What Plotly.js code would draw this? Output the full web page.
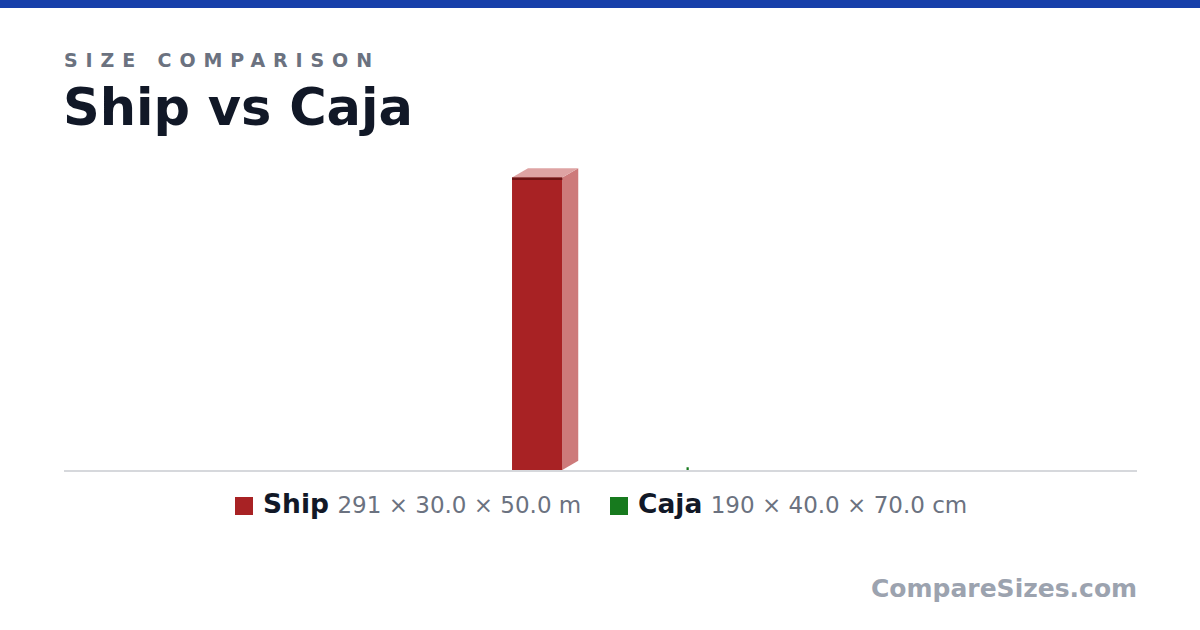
<!DOCTYPE html>
<html><head><meta charset="utf-8">
<script src="https://cdn.plot.ly/plotly-3.0.1.min.js"></script>
<style>html,body{margin:0;padding:0;background:#fff}#chart{width:1200px;height:630px}</style>
</head><body><div id="chart"></div>
<script>
// ---- data ----
const names = ['Ship', 'Caja'];
const dimHeight = [291, 190];
const dimDepth = [30.0, 40.0];
const dimWidth = [50.0, 70.0];
const units = ['m', 'cm'];
const frontColors = ['#a82224', '#177a1e'];
const topColors = ['#dea3a3', '#8fc48f'];
const sideColors = ['#cd7a7a', '#5fa565'];
const edgeColors = ['#6e1414', '#0d4a12'];

// ---- layout helpers ----
const unitToM = {m: 1, cm: 0.01};
const L = 64, R = 63, T = 100, B = 160, W = 1200, H = 630;
const plotW = W - L - R, plotH = H - T - B;
const s = 1.005; // px per metre
const xMax = plotW / s, yMax = plotH / s;
const gap = 125 / s;
const kx = 0.53, ky = 0.31;

const hs = dimHeight.map((v, i) => v * unitToM[units[i]]);
const ds = dimDepth.map((v, i) => v * unitToM[units[i]]);
const ws = dimWidth.map((v, i) => v * unitToM[units[i]]);
const total = ws.reduce((a, b) => a + b, 0) + gap * (ws.length - 1);
const centre = (600 - L) / s;
let cursor = centre - total / 2;

const traces = [];
names.forEach((n, i) => {
  const x0 = cursor, w = ws[i], h = hs[i], d = ds[i];
  const dx = kx * d, dy = ky * d;
  const tiny = w < 5;
  const base = {type: 'scatter', mode: 'lines', fill: 'toself', hoverinfo: 'skip', showlegend: false, line: {width: 0}};
  traces.push(Object.assign({}, base, {
    x: [x0 + w, x0 + w + dx, x0 + w + dx, x0 + w, x0 + w],
    y: [0, dy, h + dy, h, 0], fillcolor: sideColors[i]}));
  traces.push(Object.assign({}, base, {
    x: [x0, x0 + w, x0 + w + dx, x0 + dx, x0],
    y: [h, h, h + dy, h + dy, h], fillcolor: topColors[i]}));
  traces.push(Object.assign({}, base, {
    x: [x0, x0 + w, x0 + w, x0, x0],
    y: [0, 0, h, h, 0], fillcolor: frontColors[i],
    line: tiny ? {width: 1.5, color: frontColors[i]} : {width: 0}}));
  if (!tiny) {
    traces.push({type: 'scatter', mode: 'lines', hoverinfo: 'skip', showlegend: false,
      x: [x0, x0 + w], y: [h - 1.2, h - 1.2], line: {color: edgeColors[i], width: 2.5}});
  }
  cursor += w + gap;
});

const px = x => (x - L) / plotW;
const py = y => (H - B - y) / plotH;
const fmt = v => Number(v).toPrecision(3);

const legendX = [[235, 263], [610, 638]];
const shapes = [
  {type: 'rect', xref: 'paper', yref: 'paper', x0: px(0), x1: px(W), y0: py(8), y1: py(-2),
   fillcolor: '#1740aa', line: {width: 0}}
];
const annotations = [
  {xref: 'paper', yref: 'paper', x: px(62), y: py(60), xanchor: 'left', yanchor: 'middle', showarrow: false,
   text: '<b><span style="letter-spacing:7.9px">SIZE COMPARISON</span></b>',
   font: {family: 'DejaVu Sans', size: 19, color: '#6b7280'}},
  {xref: 'paper', yref: 'paper', x: px(61), y: py(107), xanchor: 'left', yanchor: 'middle', showarrow: false,
   text: '<b>' + names[0] + ' vs ' + names[1] + '</b>',
   font: {family: 'DejaVu Sans', size: 51, color: '#111827'}},
  {xref: 'paper', yref: 'paper', x: px(1139), y: py(588), xanchor: 'right', yanchor: 'middle', showarrow: false,
   text: '<b>CompareSizes.com</b>',
   font: {family: 'DejaVu Sans', size: 25, color: '#9ca3af'}}
];
names.forEach((n, i) => {
  const [sx, tx] = legendX[i];
  shapes.push({type: 'rect', xref: 'paper', yref: 'paper', x0: px(sx), x1: px(sx + 18), y0: py(515), y1: py(497),
    fillcolor: frontColors[i], line: {width: 0}});
  annotations.push({xref: 'paper', yref: 'paper', x: px(tx - 2), y: py(503), xanchor: 'left', yanchor: 'middle',
    showarrow: false,
    text: '<b>' + n + '</b> <span style="font-size:23px;color:#6b7280">' +
      fmt(dimHeight[i]) + ' × ' + fmt(dimDepth[i]) + ' × ' + fmt(dimWidth[i]) + ' ' + units[i] + '</span>',
    font: {family: 'DejaVu Sans', size: 26.5, color: '#111827'}});
});

const layout = {
  width: W, height: H, margin: {l: L, r: R, t: T, b: B},
  paper_bgcolor: '#ffffff', plot_bgcolor: '#ffffff',
  xaxis: {range: [0, xMax], showgrid: false, zeroline: false, showticklabels: false, ticks: '',
    showline: true, linecolor: '#d6d8dc', linewidth: 2, fixedrange: true},
  yaxis: {range: [0, yMax], visible: false, fixedrange: true},
  shapes: shapes, annotations: annotations, showlegend: false,
  font: {family: 'DejaVu Sans'}
};
Plotly.newPlot('chart', traces, layout, {displayModeBar: false, staticPlot: true});
</script></body></html>
